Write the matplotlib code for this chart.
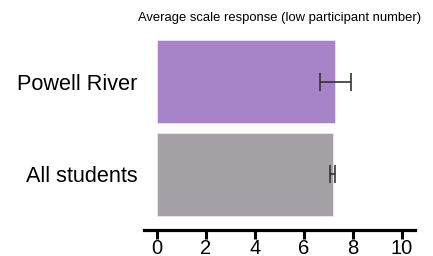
import numpy as np
import matplotlib.pyplot as plt

plt.rcParams['font.family'] = ['Liberation Sans', 'DejaVu Sans']

# data
groups = ['All students', 'Powell River']
means = [7.18, 7.28]
errors = [0.1, 0.63]
colors = ['#a6a1a6', '#a784c8']
title = 'Average scale response (low participant number)'

fig = plt.figure(figsize=(4.33, 2.56), dpi=100)
ax = fig.add_axes([144 / 433, 1 - 230 / 256, 271 / 433, 200 / 256])

ypos = np.arange(len(groups))
ax.barh(ypos, means, height=0.89, color=colors, edgecolor='#ece6f0', linewidth=0.6)
ax.errorbar(means, ypos, xerr=errors, fmt='none', ecolor='#333333',
            elinewidth=1.2, capsize=6.5, capthick=1.2)

ax.set_xlim(-0.53, 10.53)
ax.set_ylim(-0.597, 1.554)
ax.set_xticks(np.arange(0, 11, 2))
ax.set_yticks(ypos)
ax.set_yticklabels(groups, fontsize=15.6)

for s in ['left', 'right', 'top']:
    ax.spines[s].set_visible(False)
ax.spines['bottom'].set_linewidth(2.3)
ax.tick_params(axis='x', length=6.5, width=2.2, pad=0, labelsize=14.5)
ax.tick_params(axis='y', length=0, pad=4.5)

fig.text(280 / 433, 1 - 18.5 / 256, title, ha='center', va='center', fontsize=9.4)

fig.savefig('out.png', dpi=100)
